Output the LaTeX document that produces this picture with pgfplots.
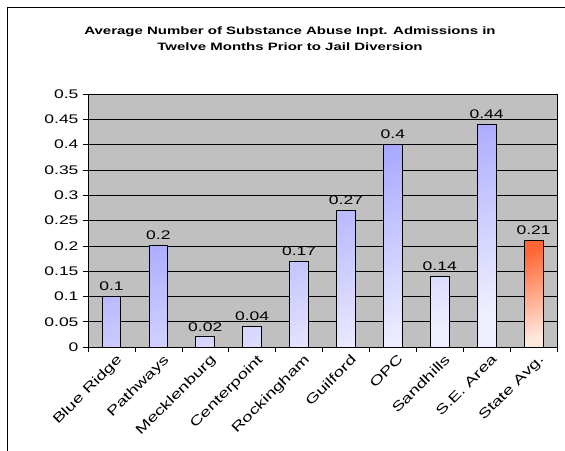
\documentclass[border=0pt]{standalone}
\usepackage{fontspec}
\setmainfont{Liberation Sans}[FakeStretch=1.4]
\usepackage{pgfplots}
\pgfplotsset{compat=1.18}
\definecolor{plotgray}{HTML}{C0C0C0}
\definecolor{bluetop}{HTML}{8A8AFF}
\definecolor{bluebot}{HTML}{EEEEFF}
\definecolor{orgtop}{HTML}{FF6633}
\definecolor{orgbot}{HTML}{FFE8DC}
\begin{document}
\begin{tikzpicture}
\begin{axis}[
  at={(88bp,104bp)}, anchor=south west,
  scale only axis, width=469bp, height=253bp,
  xmin=-0.5, xmax=9.5, ymin=0, ymax=0.5,
  axis background/.style={fill=plotgray},
  axis line style={black, line width=0.6bp},
  tick pos=left, tick align=outside,
  major tick length=5bp,
  tick style={black, line width=0.6bp},
  ytick={0,0.05,0.1,0.15,0.2,0.25,0.3,0.35,0.4,0.45,0.5},
  ymajorgrids,
  major grid style={black, line width=0.6bp},
  /pgf/number format/assume math mode=true,
  /pgf/number format/fixed,
  /pgf/number format/precision=2,
  yticklabel style={font=\fontsize{12.5bp}{14bp}\selectfont, xshift=-1bp},
  xtick={-0.5,0.5,...,9.5},
  x tick label as interval,
  xticklabels={Blue Ridge,Pathways,Mecklenburg,Centerpoint,Rockingham,Guilford,OPC,Sandhills,S.E. Area,State Avg.},
  xticklabel style={rotate=45, anchor=north east, font=\fontsize{13.3bp}{14bp}\selectfont, inner sep=1bp, yshift=-3bp, xshift=3bp},
  ybar, bar width=0.4, bar shift=0pt,
  nodes near coords,
  nodes near coords style={font=\fontsize{12.5bp}{14bp}\selectfont, black, anchor=south, yshift=2bp},
]
\addplot[draw=black, line width=0.8bp, top color=bluetop, bottom color=bluebot, shading angle=20]
  coordinates {(0,0.1) (1,0.2) (2,0.02) (3,0.04) (4,0.17) (5,0.27) (6,0.4) (7,0.14) (8,0.44)};
\addplot[draw=black, line width=0.8bp, top color=orgtop, bottom color=orgbot, shading angle=20]
  coordinates {(9,0.21)};
\end{axis}
\draw[black, line width=1bp] (7bp,0) -- (7bp,443bp) -- (565bp,443bp);
\node[anchor=base, font=\bfseries\fontsize{10.7bp}{12bp}\selectfont] at (290bp,416bp) {Average Number of Substance Abuse Inpt. Admissions in};
\node[anchor=base, font=\bfseries\fontsize{10.7bp}{12bp}\selectfont] at (290bp,400bp) {Twelve Months Prior to Jail Diversion};
\pgfresetboundingbox
\path (0,0) rectangle (565bp,451bp);
\end{tikzpicture}
\end{document}
